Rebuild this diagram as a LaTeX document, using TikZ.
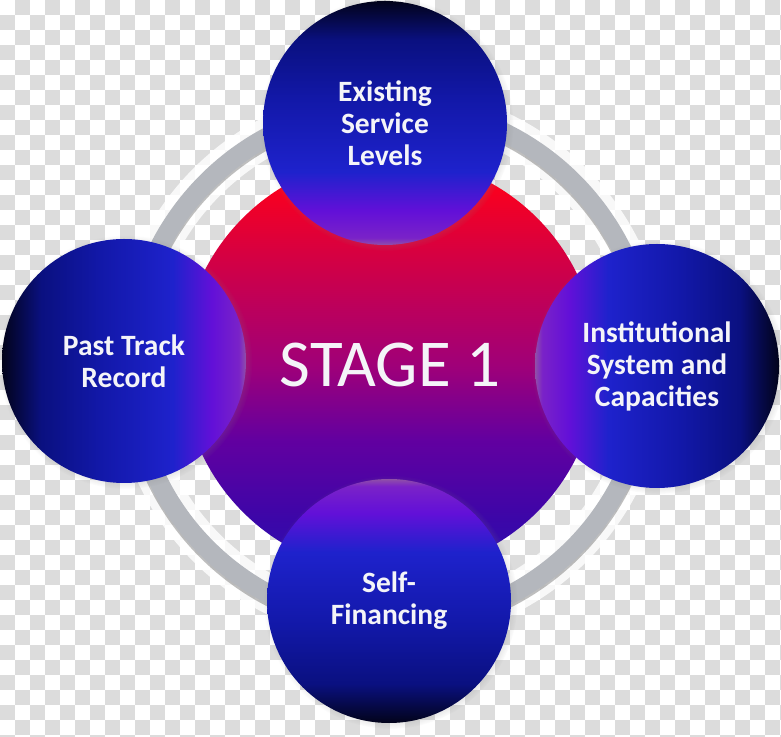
\documentclass[tikz,border=0pt]{standalone}
\usepackage{fontspec}
\setmainfont{Carlito}
\usetikzlibrary{shadows}

\definecolor{checkgray}{HTML}{DCDCDC}
\definecolor{ringgray}{HTML}{B4B7BD}
\definecolor{labelwhite}{HTML}{F4F4F8}
\definecolor{ballK}{HTML}{02031A}
\definecolor{ballD}{HTML}{0A1080}
\definecolor{ballM}{HTML}{1218A8}
\definecolor{ballB}{HTML}{1E22CC}
\definecolor{ballV}{HTML}{6210D8}
\definecolor{ballW}{HTML}{7A22C8}
\definecolor{ballR}{HTML}{9050A8}
\definecolor{hubA}{HTML}{F80020}
\definecolor{hubB}{HTML}{D20045}
\definecolor{hubC}{HTML}{A00078}
\definecolor{hubD}{HTML}{6200A0}
\definecolor{hubE}{HTML}{3C06A8}
\definecolor{hubF}{HTML}{2A10B0}

% dark side first (0bp = bottom / left)
\pgfdeclareverticalshading{shadeS}{100bp}{color(0bp)=(ballK); color(25bp)=(ballK);
  color(33bp)=(ballD); color(45bp)=(ballM); color(60bp)=(ballB);
  color(68bp)=(ballV); color(73.5bp)=(ballW); color(75bp)=(ballR); color(100bp)=(ballR)}
\pgfdeclareverticalshading{shadeN}{100bp}{color(0bp)=(ballR); color(25bp)=(ballR);
  color(26.5bp)=(ballW); color(32bp)=(ballV); color(40bp)=(ballB);
  color(55bp)=(ballM); color(67bp)=(ballD); color(75bp)=(ballK); color(100bp)=(ballK)}
\pgfdeclarehorizontalshading{shadeW}{100bp}{color(0bp)=(ballK); color(25bp)=(ballK);
  color(33bp)=(ballD); color(45bp)=(ballM); color(60bp)=(ballB);
  color(68bp)=(ballV); color(73.5bp)=(ballW); color(75bp)=(ballR); color(100bp)=(ballR)}
\pgfdeclarehorizontalshading{shadeE}{100bp}{color(0bp)=(ballR); color(25bp)=(ballR);
  color(26.5bp)=(ballW); color(32bp)=(ballV); color(40bp)=(ballB);
  color(55bp)=(ballM); color(67bp)=(ballD); color(75bp)=(ballK); color(100bp)=(ballK)}
\pgfdeclareverticalshading{shadeHub}{100bp}{color(0bp)=(hubF); color(25bp)=(hubF);
  color(31.5bp)=(hubE); color(41bp)=(hubD); color(50bp)=(hubC);
  color(62.5bp)=(hubB); color(71bp)=(hubA); color(75bp)=(hubA); color(100bp)=(hubA)}

\begin{document}
\begin{tikzpicture}[x=1pt, y=1pt,
    ball/.style = {
      circle, minimum size = 244pt, inner sep = 0pt,
      align = center, text = labelwhite,
      font = \fontsize{29.5}{32}\selectfont\bfseries,
      circular drop shadow = {shadow scale = 1.04, shadow yshift = -1pt, opacity = .45}
    },
    hub/.style = {
      circle, minimum size = 416pt, inner sep = 0pt,
      shading = shadeHub, text = labelwhite,
      font = \fontsize{67}{72}\selectfont
    },
    checker/.style  = {fill = checkgray},
    ringglow/.style = {draw = white, line width = 38pt, opacity = .8},
    ringshade/.style = {draw = black, line width = 20pt, opacity = .25},
    ringline/.style = {draw = ringgray, line width = 19pt}
  ]

  \useasboundingbox (0,0) rectangle (781,736);

  % ---- transparency checkerboard ----
  \begin{scope}
    \clip (0,0) rectangle (781,736);
    \foreach \r in {0,...,49}{
      \pgfmathtruncatemacro\off{mod(\r,2)}
      \foreach \c in {0,...,26}
        \fill[checker] ({(2*\c+1-\off)*15},{736-\r*15}) rectangle ++(15,-15);
    }
  \end{scope}

  % ---- hub and ring ----
  \coordinate (mid) at (390,371);
  \draw[ringglow] (mid) circle[radius=259];
  \draw[ringshade] ([yshift=-2pt]mid) circle[radius=259];
  \draw[ringline] (mid) circle[radius=259];

  \node[hub] (stage) at (mid) {STAGE 1};

  % ---- four surrounding balls ----
  \node[ball, shading = shadeN] (exist) at (385,613) {Existing\\Service\\Levels};
  \node[ball, shading = shadeW] (past)  at (124,375) {Past Track\\Record};
  \node[ball, shading = shadeE] (inst)  at (657,370) {Institutional\\System and\\Capacities};
  \node[ball, shading = shadeS] (self)  at (389,135) {Self-\\Financing};

\end{tikzpicture}
\end{document}
